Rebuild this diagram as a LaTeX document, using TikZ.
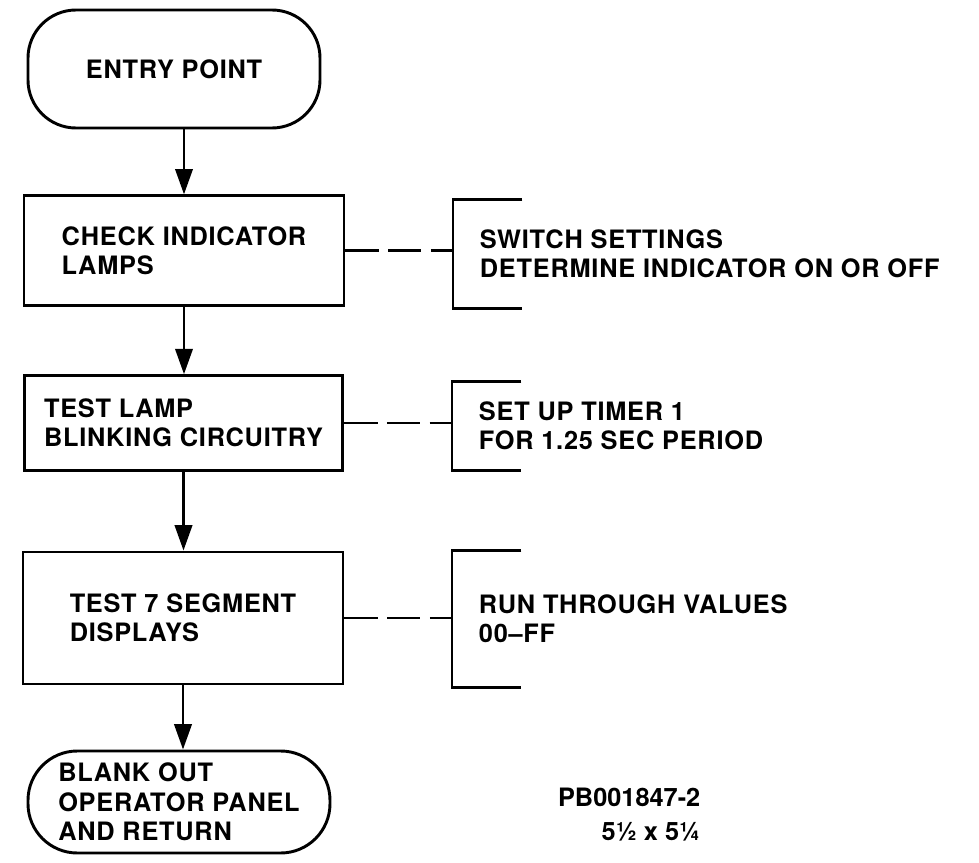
\documentclass[tikz,border=0pt]{standalone}
\usepackage{fontspec}
\setmainfont[LetterSpace=3]{TeX Gyre Heros}
\newfontfamily\plainlbl{TeX Gyre Heros}
\usetikzlibrary{arrows.meta, positioning}

\tikzset{
  terminal/.style={draw, line width=2.2pt, rounded corners=36pt, align=left},
  process/.style={draw, line width=2.2pt, align=left},
  note/.style={anchor=west, align=left, inner xsep=20pt},
  flow/.style={-{Triangle[length=19pt,width=13pt]}, line width=2pt},
  dashline/.style={line width=2.2pt, dash pattern=on 25pt off 7pt}
}

\begin{document}
\begin{tikzpicture}[x=0.75pt, y=-0.75pt, font=\fontsize{19}{22}\selectfont\bfseries]
  \useasboundingbox (0,0) rectangle (979,863);

  \node[terminal, minimum width=219pt, minimum height=88.5pt] (entry) at (174,69) {ENTRY POINT};
  \node[process, minimum width=240pt, minimum height=82pt] (check) at (184,250.5) {CHECK INDICATOR\\LAMPS};
  \node[process, minimum width=239pt, minimum height=71pt] (blink) at (183.5,423) {TEST LAMP\\BLINKING CIRCUITRY};
  \node[process, minimum width=240pt, minimum height=99pt] (segm) at (183,618) {TEST 7 SEGMENT\\DISPLAYS};
  \node[terminal, rounded corners=37pt, minimum width=226.5pt, minimum height=76.5pt] (blank) at (179,802) {BLANK OUT\\OPERATOR PANEL\\AND RETURN};

  % side notes
  \node[note, minimum height=81pt] (switch) at (453,254) {SWITCH SETTINGS\\DETERMINE INDICATOR ON OR OFF};
  \node[note, minimum height=66pt] (timer) at (452,426) {SET UP TIMER 1\\FOR 1.25 SEC PERIOD};
  \node[note, minimum height=102pt] (values) at (452,619) {RUN THROUGH VALUES\\00--FF};
  \foreach \n in {switch, timer, values}
    \draw[line width=2.2pt] ([xshift=52pt]\n.north west) -- (\n.north west) -- (\n.south west) -- ([xshift=52pt]\n.south west);

  \draw[flow] (entry.south -| check.north) -- (check.north);
  \draw[flow] (check.south) -- (check.south |- blink.north);
  \draw[flow] (blink.south) -- (blink.south |- segm.north);
  \draw[flow] (segm.south) -- (segm.south |- blank.north);

  \draw[dashline] (check.east) -- (check.east -| switch.west);
  \draw[dashline] (blink.east) -- (blink.east -| timer.west);
  \draw[dashline] (segm.east) -- (segm.east -| values.west);

  \node[font=\fontsize{19}{22}\selectfont\bfseries\plainlbl, anchor=east] (figno) at (705,797) {PB001847-2};
  \node[font=\fontsize{19}{22}\selectfont\bfseries\plainlbl, anchor=east] (figsize) at (705,832) {5½ x 5¼};
\end{tikzpicture}
\end{document}
